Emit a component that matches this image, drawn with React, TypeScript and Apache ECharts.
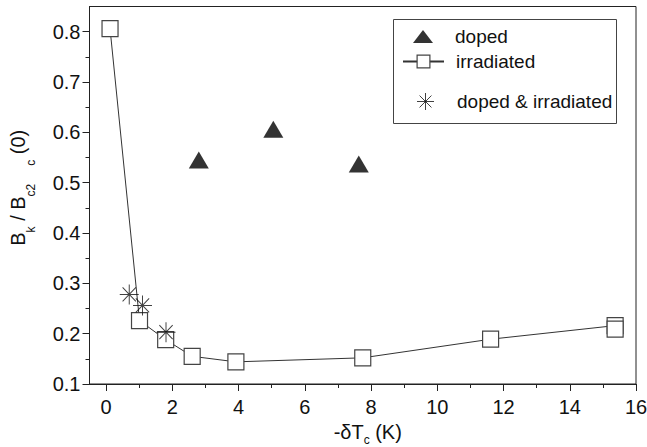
import React, { useEffect, useRef } from 'react';
import * as echarts from 'echarts';

const xMajorTicks = [0, 2, 4, 6, 8, 10, 12, 14, 16];
const xMinorTicks = [1, 3, 5, 7, 9, 11, 13, 15];
const yMajorTicks = [0.1, 0.2, 0.3, 0.4, 0.5, 0.6, 0.7, 0.8];
const yMinorTicks = [0.15, 0.25, 0.35, 0.45, 0.55, 0.65, 0.75];

const dopedX = [2.8, 5.05, 7.63];
const dopedY = [0.545, 0.606, 0.537];

const irradiatedX = [0.12, 1.01, 1.8, 2.6, 3.92, 7.75, 11.61, 15.37, 15.37];
const irradiatedY = [0.806, 0.226, 0.188, 0.155, 0.144, 0.152, 0.189, 0.216, 0.209];

const dopedIrradiatedX = [0.7, 1.1, 1.81];
const dopedIrradiatedY = [0.278, 0.256, 0.203];

const FONT = 'Liberation Sans, Arial, sans-serif';
const STAR = 'path://M10,0L10,20M0,10L20,10M3,3L17,17M3,17L17,3';

export default function App() {
  const ref = useRef<HTMLDivElement>(null);
  useEffect(() => {
    if (!ref.current) return;
    const chart = echarts.init(ref.current, undefined, { renderer: 'svg' });
    const textBase = { fontSize: 20, color: '#111', fontFamily: FONT };
    const legendText = { fontSize: 19, color: '#111', fontFamily: FONT };
    const subStyle = { fontSize: 12, fontFamily: FONT, color: '#111', padding: [25, 0, 0, 0] };
    const legendBase = {
      show: true,
      selectedMode: false,
      orient: 'vertical',
      padding: 0,
      symbolKeepAspect: false,
    };
    chart.setOption({
      animation: false,
      backgroundColor: '#fff',
      grid: {
        left: 89.5,
        right: 11,
        top: 6.5,
        bottom: 63,
        show: true,
        borderColor: '#222',
        borderWidth: 1,
        backgroundColor: '#fff',
        outerBoundsMode: 'none',
        containLabel: false,
      },
      xAxis: [
        {
          type: 'value',
          min: -0.5,
          max: 16,
          position: 'bottom',
          axisLine: { show: true, onZero: false, lineStyle: { color: '#222', width: 1 } },
          axisTick: { show: true, customValues: xMajorTicks, length: 7, lineStyle: { color: '#222' } },
          axisLabel: { customValues: xMajorTicks, margin: 13, ...textBase },
          splitLine: { show: false },
          name: '{m|-δT}{sub|c} (K)',
          nameLocation: 'middle',
          nameGap: 29,
          nameTextStyle: {
            ...textBase,
            rich: {
              m: { ...textBase, padding: [0, 0, 0, 10] },
              sub: { ...subStyle, padding: [16, 0, 0, 0] },
            },
          },
        },
        {
          type: 'value',
          min: -0.5,
          max: 16,
          position: 'bottom',
          axisLine: { show: false, onZero: false },
          axisTick: { show: true, customValues: xMinorTicks, length: 4, lineStyle: { color: '#222' } },
          axisLabel: { show: false },
          splitLine: { show: false },
        },
      ],
      yAxis: [
        {
          type: 'value',
          min: 0.1,
          max: 0.85,
          position: 'left',
          axisLine: { show: true, onZero: false, lineStyle: { color: '#222', width: 1 } },
          axisTick: { show: true, customValues: yMajorTicks, length: 7, lineStyle: { color: '#222' } },
          axisLabel: { customValues: yMajorTicks, margin: 9, ...textBase },
          splitLine: { show: false },
          name: '{m|B}{sub|k} / B{sub|c2}{sub2|c} (0)',
          nameLocation: 'middle',
          nameRotate: 90,
          nameGap: 53,
          nameTextStyle: {
            ...textBase,
            rich: {
              m: { ...textBase, padding: [0, 0, 0, 15] },
              sub: subStyle,
              sub2: { ...subStyle, padding: [25, 0, 0, 18] },
            },
          },
        },
        {
          type: 'value',
          min: 0.1,
          max: 0.85,
          position: 'left',
          axisLine: { show: false, onZero: false },
          axisTick: { show: true, customValues: yMinorTicks, length: 4, lineStyle: { color: '#222' } },
          axisLabel: { show: false },
          splitLine: { show: false },
        },
      ],
      legend: [
        {
          ...legendBase,
          left: 413,
          top: 27,
          itemWidth: 20,
          itemHeight: 13,
          data: [{ name: 'doped', itemStyle: { borderWidth: 0 } }],
          textStyle: { ...legendText, padding: [0, 0, 0, 17] },
        },
        {
          ...legendBase,
          left: 402,
          top: 52,
          itemWidth: 41,
          itemHeight: 16,
          data: [{ name: 'irradiated', itemStyle: { borderWidth: 1.2 } }],
          textStyle: { ...legendText, padding: [0, 0, 0, 7] },
        },
        {
          ...legendBase,
          left: 414.5,
          top: 90.5,
          itemWidth: 17,
          itemHeight: 17,
          data: [{ name: 'doped & irradiated', itemStyle: { borderWidth: 1 } }],
          textStyle: { ...legendText, padding: [0, 0, 0, 18] },
        },
      ],
      graphic: [
        {
          type: 'rect',
          z: 10,
          shape: { x: 393.5, y: 19.5, width: 223, height: 104 },
          style: { fill: 'none', stroke: '#444', lineWidth: 1 },
        },
      ],
      series: [
        {
          name: 'doped',
          type: 'scatter',
          xAxisIndex: 0,
          yAxisIndex: 0,
          data: dopedX.map((x, i) => [x, dopedY[i]]),
          symbol: 'triangle',
          symbolSize: [20, 17],
          itemStyle: { color: '#000' },
        },
        {
          name: 'irradiated',
          type: 'line',
          xAxisIndex: 0,
          yAxisIndex: 0,
          data: irradiatedX.map((x, i) => [x, irradiatedY[i]]),
          symbol: 'rect',
          symbolSize: 16,
          showSymbol: true,
          showAllSymbol: true,
          itemStyle: { color: '#fff', borderColor: '#444', borderWidth: 1.2 },
          lineStyle: { color: '#333', width: 1 },
          z: 2,
        },
        {
          name: 'doped & irradiated',
          type: 'scatter',
          xAxisIndex: 0,
          yAxisIndex: 0,
          data: dopedIrradiatedX.map((x, i) => [x, dopedIrradiatedY[i]]),
          symbol: STAR,
          symbolSize: [19, 20],
          itemStyle: { color: 'none', borderColor: '#111', borderWidth: 1 },
          z: 3,
        },
      ],
    });
    return () => chart.dispose();
  }, []);
  return (
    <div
      ref={ref}
      style={{ position: 'fixed', left: 0, top: 0, width: 647, height: 447, background: '#fff' }}
    />
  );
}
